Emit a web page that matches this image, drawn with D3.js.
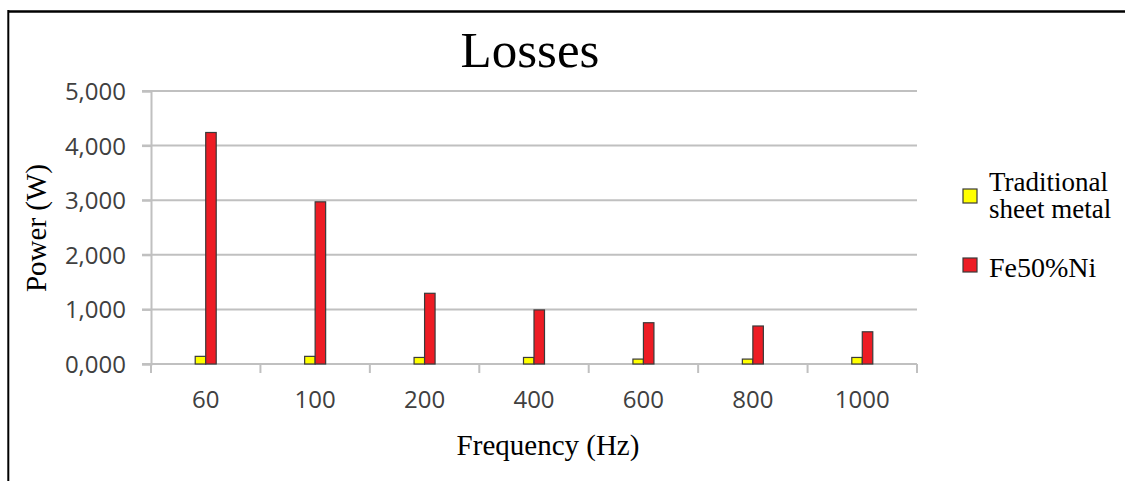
<!DOCTYPE html>
<head>
<meta charset="utf-8">
<title>Losses</title>
<script src="https://cdn.jsdelivr.net/npm/d3@7"></script>
<style>
    body { margin: 0; background: #fff; }
    .serif { font-family: "Liberation Serif", "DejaVu Serif", serif; fill: #000; }
    .tick text { font-family: "Open Sans", sans-serif; fill: #404040; }
</style>
</head>
<body>
<script>
    // data
    var frequencies = ["60", "100", "200", "400", "600", "800", "1000"];
    var seriesNames = ["Traditional sheet metal", "Fe50%Ni"];
    var traditional = [0.14, 0.14, 0.12, 0.12, 0.09, 0.09, 0.12];
    var feNi = [4.24, 2.97, 1.295, 0.99, 0.756, 0.696, 0.59];
    var yTicks = [0, 1, 2, 3, 4, 5];

    var colors = ["#ffff00", "#ed1c24"];

    var width = 1125, height = 481;
    var margin = {top: 91, right: 208, bottom: 117, left: 151};

    var svg = d3.select("body")
        .append("svg")
        .attr("width", width)
        .attr("height", height);

    // frame (only top and left edges show)
    svg.append("line")
        .attr("x1", 8).attr("x2", width)
        .attr("y1", 11.5).attr("y2", 11.5)
        .attr("stroke", "#000").attr("stroke-width", 2.5);
    svg.append("line")
        .attr("x1", 8.3).attr("x2", 8.3)
        .attr("y1", 10).attr("y2", height)
        .attr("stroke", "#000").attr("stroke-width", 2);

    var x0 = d3.scaleBand()
        .domain(frequencies)
        .range([margin.left, width - margin.right]);

    var x1 = d3.scaleBand()
        .domain(seriesNames)
        .range([0, 21]);

    var y = d3.scaleLinear()
        .domain([0, 5])
        .range([height - margin.bottom, margin.top]);

    // gridlines
    svg.append("g")
        .selectAll("line")
        .data(yTicks)
        .enter()
        .append("line")
        .attr("x1", margin.left - 9)
        .attr("x2", width - margin.right)
        .attr("y1", d => y(d))
        .attr("y2", d => y(d))
        .attr("stroke", "#c0c0c0")
        .attr("stroke-width", 2);

    // y axis
    var yAxis = svg.append("g")
        .attr("transform", "translate(" + margin.left + ",0)")
        .call(d3.axisLeft(y)
            .tickValues(yTicks)
            .tickSize(9)
            .tickPadding(16)
            .tickFormat(d => d3.format(".3f")(d).replace(".", ",")));
    yAxis.selectAll("text").style("font-size", "24px").attr("dy", "0.35em");
    yAxis.select(".domain").attr("stroke", "#c0c0c0").attr("stroke-width", 2);
    yAxis.selectAll(".tick line").attr("stroke", "#c0c0c0").attr("stroke-width", 2);

    // x axis: ticks at category boundaries
    var xAxis = svg.append("g")
        .attr("transform", "translate(0," + y(0) + ")");
    xAxis.append("line")
        .attr("x1", margin.left).attr("x2", width - margin.right)
        .attr("stroke", "#c0c0c0").attr("stroke-width", 2);
    var bounds = frequencies.map(d => x0(d)).concat([x0.range()[1]]);
    xAxis.selectAll(".bound")
        .data(bounds)
        .enter()
        .append("line")
        .attr("class", "bound")
        .attr("x1", d => d).attr("x2", d => d)
        .attr("y1", 0).attr("y2", 9)
        .attr("stroke", "#c0c0c0").attr("stroke-width", 2);
    xAxis.selectAll(".xlab")
        .data(frequencies)
        .enter()
        .append("text")
        .attr("class", "xlab")
        .attr("x", d => x0(d) + x0.bandwidth() / 2)
        .attr("y", 44)
        .attr("text-anchor", "middle")
        .style("font-family", "'Open Sans', sans-serif")
        .style("font-size", "24px")
        .style("fill", "#404040")
        .text(d => d);

    // bars
    var values = [traditional, feNi];
    var rows = frequencies.map((f, i) => ({freq: f, vals: seriesNames.map((s, j) => ({key: s, idx: j, v: values[j][i]}))}));

    svg.append("g")
        .selectAll("g")
        .data(rows)
        .enter()
        .append("g")
        .attr("transform", d => "translate(" + (x0(d.freq) + x0.bandwidth() / 2 - 10.5) + ",0)")
        .selectAll("rect")
        .data(d => d.vals)
        .enter()
        .append("rect")
        .attr("x", d => x1(d.key))
        .attr("width", x1.bandwidth())
        .attr("y", d => y(d.v))
        .attr("height", d => y(0) - y(d.v))
        .attr("fill", d => colors[d.idx])
        .attr("stroke", "#3a3a3a")
        .attr("stroke-width", 1.2);

    // title
    svg.append("text")
        .attr("class", "serif")
        .attr("x", 530)
        .attr("y", 67)
        .attr("text-anchor", "middle")
        .style("font-size", "51px")
        .text("Losses");

    // axis titles
    svg.append("text")
        .attr("class", "serif")
        .attr("x", (margin.left + width - margin.right) / 2 + 14)
        .attr("y", 455)
        .attr("text-anchor", "middle")
        .style("font-size", "29px")
        .text("Frequency (Hz)");

    svg.append("text")
        .attr("class", "serif")
        .attr("transform", "translate(46,228) rotate(-90)")
        .attr("text-anchor", "middle")
        .style("font-size", "29px")
        .text("Power (W)");

    // legend
    var legend = svg.append("g");
    var legendY = [196, 265];
    legend.selectAll("rect")
        .data(seriesNames)
        .enter()
        .append("rect")
        .attr("x", 963)
        .attr("y", (d, i) => legendY[i] - 7)
        .attr("width", 14)
        .attr("height", 14)
        .attr("fill", (d, i) => colors[i])
        .attr("stroke", "#3a3a3a")
        .attr("stroke-width", 1.2);

    var t1 = legend.append("text")
        .attr("class", "serif")
        .attr("x", 989)
        .attr("y", 191)
        .style("font-size", "27px");
    t1.append("tspan").attr("x", 989).text("Traditional");
    t1.append("tspan").attr("x", 989).attr("dy", 27).text("sheet metal");

    legend.append("text")
        .attr("class", "serif")
        .attr("x", 989)
        .attr("y", 277)
        .style("font-size", "28px")
        .text(seriesNames[1]);
</script>
</body>
</html>
